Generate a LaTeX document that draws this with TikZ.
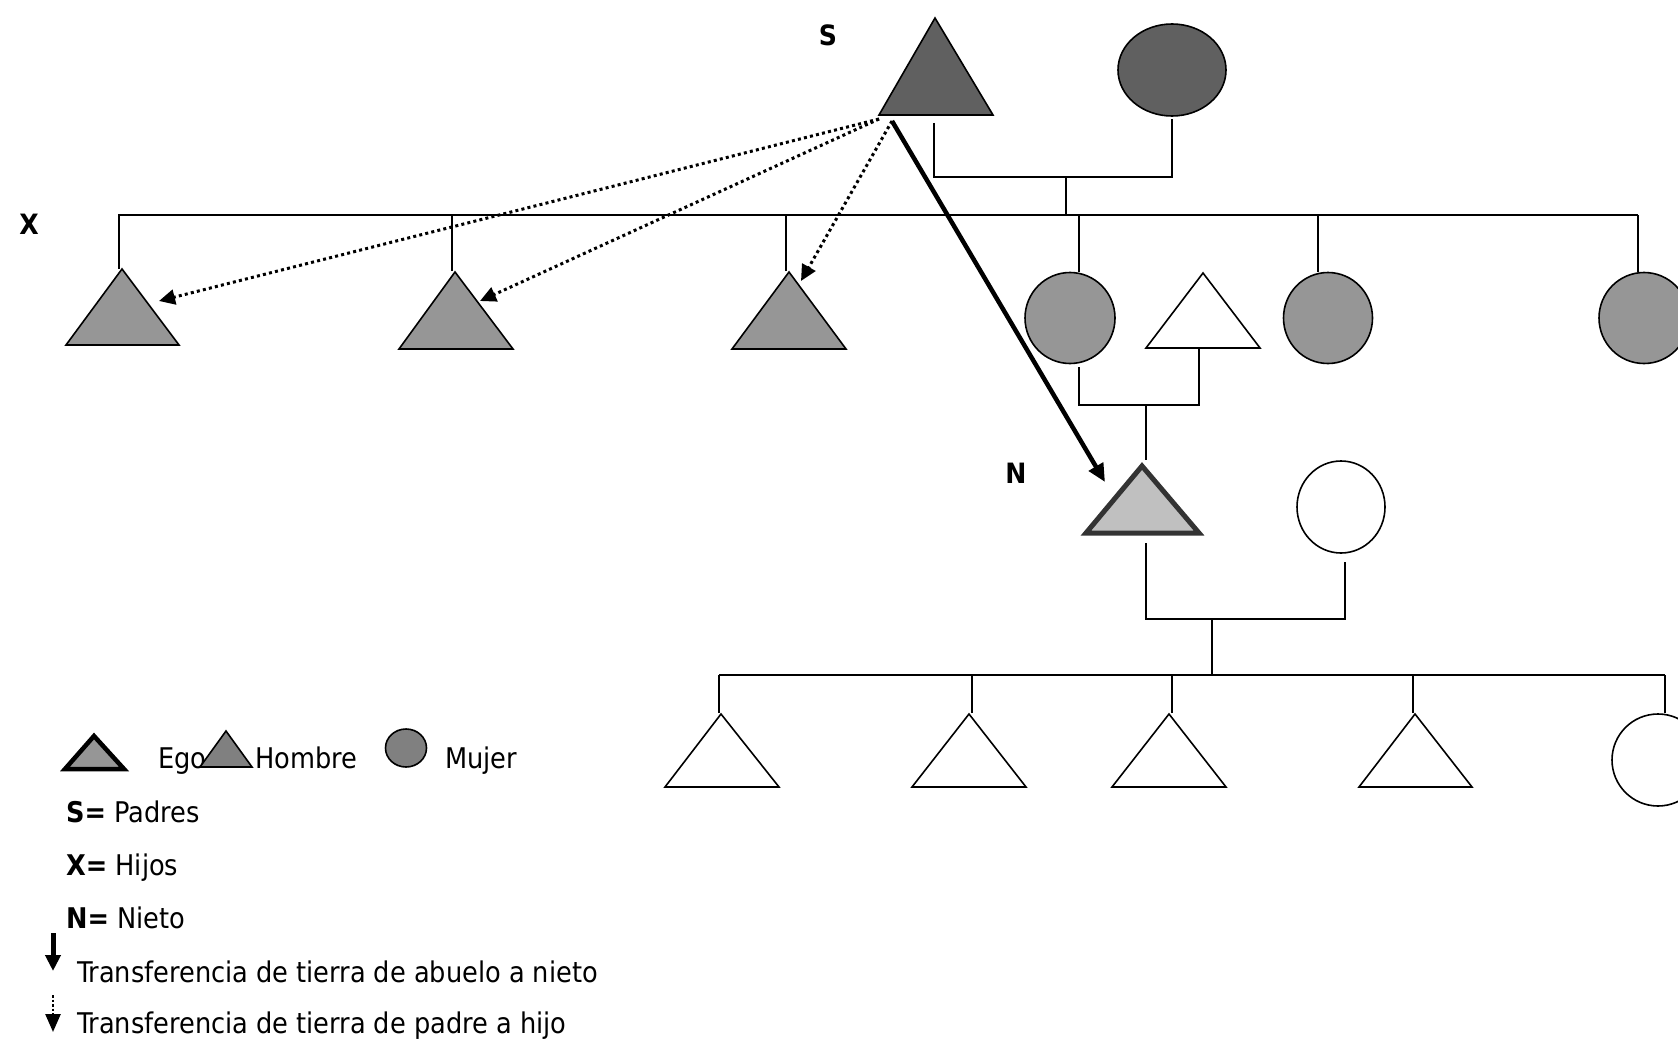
\documentclass[tikz,border=0pt]{standalone}
\usepackage{fontspec}
\setmainfont{DejaVu Sans Condensed}
\usetikzlibrary{arrows.meta}

\definecolor{darkgr}{HTML}{606060}
\definecolor{midgr}{HTML}{969696}
\definecolor{keygr}{HTML}{808080}
\definecolor{egogr}{HTML}{C0C0C0}
\definecolor{egoline}{HTML}{333333}

\begin{document}
\begin{tikzpicture}[x=1pt, y=-1pt,
    kin/.style={line width=1.4pt},
    sib/.style={line width=2pt},
    shp/.style={draw, line width=1.6pt, line join=miter},
    ego/.style={draw=egoline, line width=5pt, fill=egogr, line join=miter},
    txt/.style={font=\fontsize{28.5}{32}\selectfont, inner sep=0pt, anchor=base west},
    tag/.style={font=\fontsize{28}{32}\selectfont\bfseries, inner sep=0pt},
    land/.style={line width=4.5pt, -{Triangle[length=18pt,width=16pt]}},
    gift/.style={line width=3pt, dash pattern=on 3pt off 3.2pt, -{Triangle[length=16pt,width=15pt]}}]
  \useasboundingbox (0,0) rectangle (1678,1043);
  \clip (0,0) rectangle (1678,1043);

  % padres
  \draw[shp, fill=darkgr] (935,18) -- (993,115) -- (879,115) -- cycle;
  \draw[shp, fill=darkgr] (1172,70) ellipse (54pt and 46pt);
  \node[tag] (s) at (828,35) {S};

  \coordinate (fS) at (934,123);
  \coordinate (mS) at (1172,119);
  \coordinate (uS) at (1066,177);
  \coordinate (bX) at (1066,215);
  \draw[kin] (fS) |- (uS) -| (mS);
  \draw[kin] (uS) -- (bX);

  % hijos
  \draw[sib] (118,215) -- (1638,215);
  \coordinate (x1) at (119,269);
  \coordinate (x2) at (452,271);
  \coordinate (x3) at (786,271);
  \coordinate (x4) at (1079,272);
  \coordinate (x5) at (1318,272);
  \coordinate (x6) at (1638,272);
  \foreach \p in {x1,x2,x3,x4,x5,x6}
    \draw[kin] (\p) -- (\p |- bX);

  \draw[shp, fill=midgr] (122,269) -- (179,345) -- (66,345) -- cycle;
  \draw[shp, fill=midgr] (455,272) -- (513,349) -- (399,349) -- cycle;
  \draw[shp, fill=midgr] (789,272) -- (846,349) -- (732,349) -- cycle;
  \draw[shp, fill=midgr] (1070,318) ellipse (45pt and 45.5pt);
  \draw[shp, fill=white] (1203,273) -- (1260,348) -- (1146,348) -- cycle;
  \draw[shp, fill=midgr] (1328,318) ellipse (44.5pt and 45.5pt);
  \draw[shp, fill=midgr] (1644,318) ellipse (45pt and 45.5pt);
  \node[tag] (x) at (29,224) {X};

  \coordinate (wN) at (1079,367);
  \coordinate (hN) at (1199,348);
  \coordinate (uN) at (1146,405);
  \coordinate (eN) at (1146,460);
  \draw[kin] (wN) |- (uN) -| (hN);
  \draw[kin] (uN) -- (eN);

  % nieto
  \draw[ego] (1142,466) -- (1199,533) -- (1086,533) -- cycle;
  \draw[shp, fill=white] (1341,507) ellipse (44pt and 46pt);
  \node[tag] (n) at (1016,473) {N};

  \coordinate (eS) at (1146,543);
  \coordinate (wfS) at (1345,562);
  \coordinate (uG) at (1212,619);
  \coordinate (bG) at (1212,675);
  \draw[kin] (eS) |- (uG) -| (wfS);
  \draw[kin] (uG) -- (bG);

  \draw[sib] (719,675) -- (1665,675);
  \coordinate (g1) at (719,713);
  \coordinate (g2) at (972,713);
  \coordinate (g3) at (1172,713);
  \coordinate (g4) at (1413,713);
  \coordinate (g5) at (1665,713);
  \foreach \p in {g1,g2,g3,g4,g5}
    \draw[kin] (\p) -- (\p |- bG);

  \draw[shp, fill=white] (721,714) -- (779,787) -- (665,787) -- cycle;
  \draw[shp, fill=white] (969,714) -- (1026,787) -- (912,787) -- cycle;
  \draw[shp, fill=white] (1169,714) -- (1226,787) -- (1112,787) -- cycle;
  \draw[shp, fill=white] (1415,714) -- (1472,787) -- (1359,787) -- cycle;
  \draw[shp, fill=white] (1658,760) ellipse (46pt and 46pt);

  % transferencias
  \coordinate (sL) at (879,119);
  \coordinate (sM) at (892,121);
  \coordinate (t1) at (159,301);
  \coordinate (t2) at (480,301);
  \coordinate (t3) at (801,281);
  \coordinate (tE) at (1105,482);
  \draw[gift] (sL) -- (t1);
  \draw[gift] (sL) -- (t2);
  \draw[gift] (sM) -- (t3);
  \draw[land] (sM) -- (tE);

  % leyenda
  \draw[line width=4.5pt, fill=midgr, line join=miter] (94,736) -- (124,769) -- (65,769) -- cycle;
  \node[txt] (kEgo) at (158,768) {Ego};
  \draw[shp, fill=keygr] (226,731) -- (252,767) -- (200,767) -- cycle;
  \node[txt] (kHom) at (255,768) {Hombre};
  \draw[shp, fill=keygr] (406,748) ellipse (20.5pt and 19pt);
  \node[txt] (kMuj) at (445,768) {Mujer};
  \node[txt] (kS) at (66,822) {\textbf{S=} Padres};
  \node[txt] (kX) at (66,875) {\textbf{X=} Hijos};
  \node[txt] (kN) at (66,928) {\textbf{N=} Nieto};

  \coordinate (a1) at (53,933);
  \coordinate (a2) at (53,971);
  \coordinate (p1) at (53,995);
  \coordinate (p2) at (53,1032);
  \draw[land, line width=5pt, -{Triangle[length=16pt,width=15pt]}] (a1) -- (a2);
  \draw[gift, line width=2.5pt, dash pattern=on 2.5pt off 2pt, -{Triangle[length=18pt,width=15pt]}] (p1) -- (p2);
  \node[txt] (kA) at (77,982) {Transferencia de tierra de abuelo a nieto};
  \node[txt] (kP) at (77,1033) {Transferencia de tierra de padre a hijo};
\end{tikzpicture}
\end{document}
